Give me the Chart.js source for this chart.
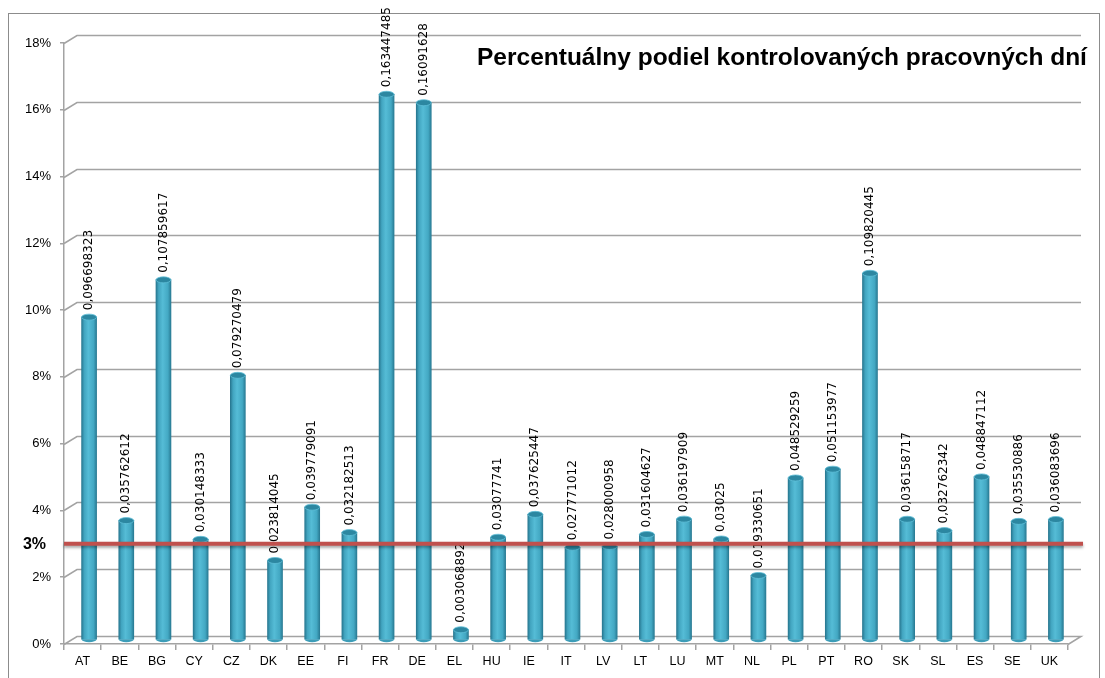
<!DOCTYPE html>
<html>
<head>
<meta charset="utf-8">
<script src="https://cdn.jsdelivr.net/npm/chart.js@4/dist/chart.umd.min.js"></script>
<style>
  html, body { margin: 0; padding: 0; background: #fff; overflow: hidden; }
  canvas { display: block; }
</style>
</head>
<body>
<canvas id="chart1" width="1105" height="678"></canvas>
<script>
const krajiny = ['AT', 'BE', 'BG', 'CY', 'CZ', 'DK', 'EE', 'FI', 'FR', 'DE', 'EL', 'HU', 'IE', 'IT',
    'LV', 'LT', 'LU', 'MT', 'NL', 'PL', 'PT', 'RO', 'SK', 'SL', 'ES', 'SE', 'UK']
const podiel = [0.096698323, 0.035762612, 0.107859617, 0.030148333, 0.079270479, 0.023814045,
    0.039779091, 0.032182513, 0.163447485, 0.16091628, 0.003068892, 0.03077741, 0.037625447,
    0.027771012, 0.028000958, 0.031604627, 0.036197909, 0.03025, 0.019330651, 0.048529259,
    0.051153977, 0.109820445, 0.036158717, 0.032762342, 0.048847112, 0.035530886, 0.036083696]
const yTicks = [0, 0.02, 0.04, 0.06, 0.08, 0.1, 0.12, 0.14, 0.16, 0.18]
const limit = 0.03
const limitLabel = '3%'
const nadpis = 'Percentuálny podiel kontrolovaných pracovných dní'

// posun zadnej steny (pseudo 3D)
const DEPTH_X = 13
const DEPTH_Y = 8

const look3d = {
    id: 'look3d',
    beforeDraw(chart) {
        const c = chart.ctx
        c.save()
        c.strokeStyle = '#8c8c8c'
        c.lineWidth = 1
        c.strokeRect(8.5, 13.5, 1091, 720)
        c.restore()
    },
    beforeDatasetsDraw(chart) {
        const { ctx: c, chartArea: a, scales: { y } } = chart
        c.save()
        c.strokeStyle = '#a3a3a3'
        c.lineWidth = 1.5
        yTicks.forEach(v => {
            const py = Math.round(y.getPixelForValue(v)) + 0.5
            c.beginPath()
            c.moveTo(a.left, py)
            c.lineTo(a.left + DEPTH_X, py - DEPTH_Y)
            c.lineTo(a.right + DEPTH_X, py - DEPTH_Y)
            if (v === 0) c.lineTo(a.right, py)
            c.stroke()
        })
        c.restore()

        // stlpce su v strede hlbky
        c.save()
        c.translate(DEPTH_X / 2, -DEPTH_Y / 2)
    },
    afterDatasetsDraw(chart) {
        const { ctx: c, chartArea: a, scales: { y } } = chart
        const meta = chart.getDatasetMeta(0)

        meta.data.forEach((bar, i) => {
            const r = bar.width / 2
            // spodok valca
            c.beginPath()
            c.ellipse(bar.x, bar.base, r, 3, 0, 0, Math.PI)
            c.fillStyle = '#3c9db8'
            c.fill()
            // vrch valca
            c.beginPath()
            c.ellipse(bar.x, bar.y, r, 3, 0, 0, Math.PI * 2)
            c.fillStyle = '#2c87a1'
            c.fill()
            c.strokeStyle = '#5fbfd8'
            c.lineWidth = 0.8
            c.stroke()

            c.save()
            c.translate(bar.x, bar.y - 7)
            c.rotate(-Math.PI / 2)
            c.font = '12px "DejaVu Sans"'
            c.fillStyle = '#000'
            c.textAlign = 'left'
            c.textBaseline = 'middle'
            c.fillText(String(podiel[i]).replace('.', ','), 0, 0)
            c.restore()
        })
        c.restore()

        // limit 3 %
        const ly = y.getPixelForValue(limit)
        c.save()
        c.shadowColor = 'rgba(0, 0, 0, 0.35)'
        c.shadowBlur = 3
        c.shadowOffsetY = 2
        c.strokeStyle = '#c0504d'
        c.lineWidth = 4
        c.beginPath()
        c.moveTo(a.left, ly)
        c.lineTo(a.right + DEPTH_X + 2, ly)
        c.stroke()
        c.restore()

        c.save()
        c.font = 'bold 16px "Liberation Sans"'
        c.fillStyle = '#000'
        c.textAlign = 'right'
        c.textBaseline = 'middle'
        c.fillText(limitLabel, 46, ly + 1)
        c.restore()

        // nadpis
        c.save()
        let size = 27
        c.font = 'bold ' + size + 'px "Liberation Sans"'
        while (c.measureText(nadpis).width > 616 && size > 10) {
            size -= 0.25
            c.font = 'bold ' + size + 'px "Liberation Sans"'
        }
        c.fillStyle = '#000'
        c.textAlign = 'left'
        c.textBaseline = 'alphabetic'
        c.fillText(nadpis, 477, 65)
        c.restore()
    }
}

const pracovneDni = new Chart(
    document.getElementById('chart1'),
    {
        type: 'bar',
        data: {
            labels: krajiny,
            datasets: [
            {
                data: podiel,
                barThickness: 15,
                borderWidth: 0,
                backgroundColor: context => {
                    const chart = context.chart
                    const xs = chart.scales.x
                    if (!xs || context.dataIndex === undefined) {
                        return '#4bacc6'
                    }
                    const cx = xs.getPixelForValue(context.dataIndex)
                    if (!isFinite(cx)) {
                        return '#4bacc6'
                    }
                    const g = chart.ctx.createLinearGradient(cx - 7.5, 0, cx + 7.5, 0)
                    g.addColorStop(0, '#287891')
                    g.addColorStop(0.18, '#42a5c0')
                    g.addColorStop(0.45, '#55bcd6')
                    g.addColorStop(0.8, '#43a8c3')
                    g.addColorStop(1, '#297b94')
                    return g
                }
            }
            ]
        },
        options: {
            responsive: false,
            devicePixelRatio: 1,
            animation: false,
            layout: {
                padding: { left: 0, right: 37, top: 43, bottom: 0 }
            },
            scales: {
                x: {
                    afterFit: scale => { scale.height = 34 },
                    border: { display: true, color: '#a3a3a3', width: 1.5 },
                    grid: { drawOnChartArea: false, tickLength: 6, color: '#a3a3a3', lineWidth: 1.5 },
                    ticks: {
                        padding: 4,
                        color: '#000',
                        font: { family: 'Liberation Sans', size: 12.5 },
                        maxRotation: 0,
                        autoSkip: false
                    }
                },
                y: {
                    min: 0,
                    max: 0.18,
                    afterFit: scale => { scale.width = 64 },
                    afterBuildTicks: scale => { scale.ticks = yTicks.map(v => ({ value: v })) },
                    border: { display: true, color: '#a3a3a3', width: 1.5 },
                    grid: { drawOnChartArea: false, tickLength: 4, color: '#a3a3a3', lineWidth: 1.5 },
                    ticks: {
                        padding: 9,
                        color: '#000',
                        font: { family: 'Liberation Sans', size: 13 },
                        callback: value => Math.round(value * 100) + '%'
                    }
                }
            },
            plugins: {
                legend: { display: false },
                tooltip: { enabled: false }
            }
        },
        plugins: [look3d]
    }
)
</script>
</body>
</html>
